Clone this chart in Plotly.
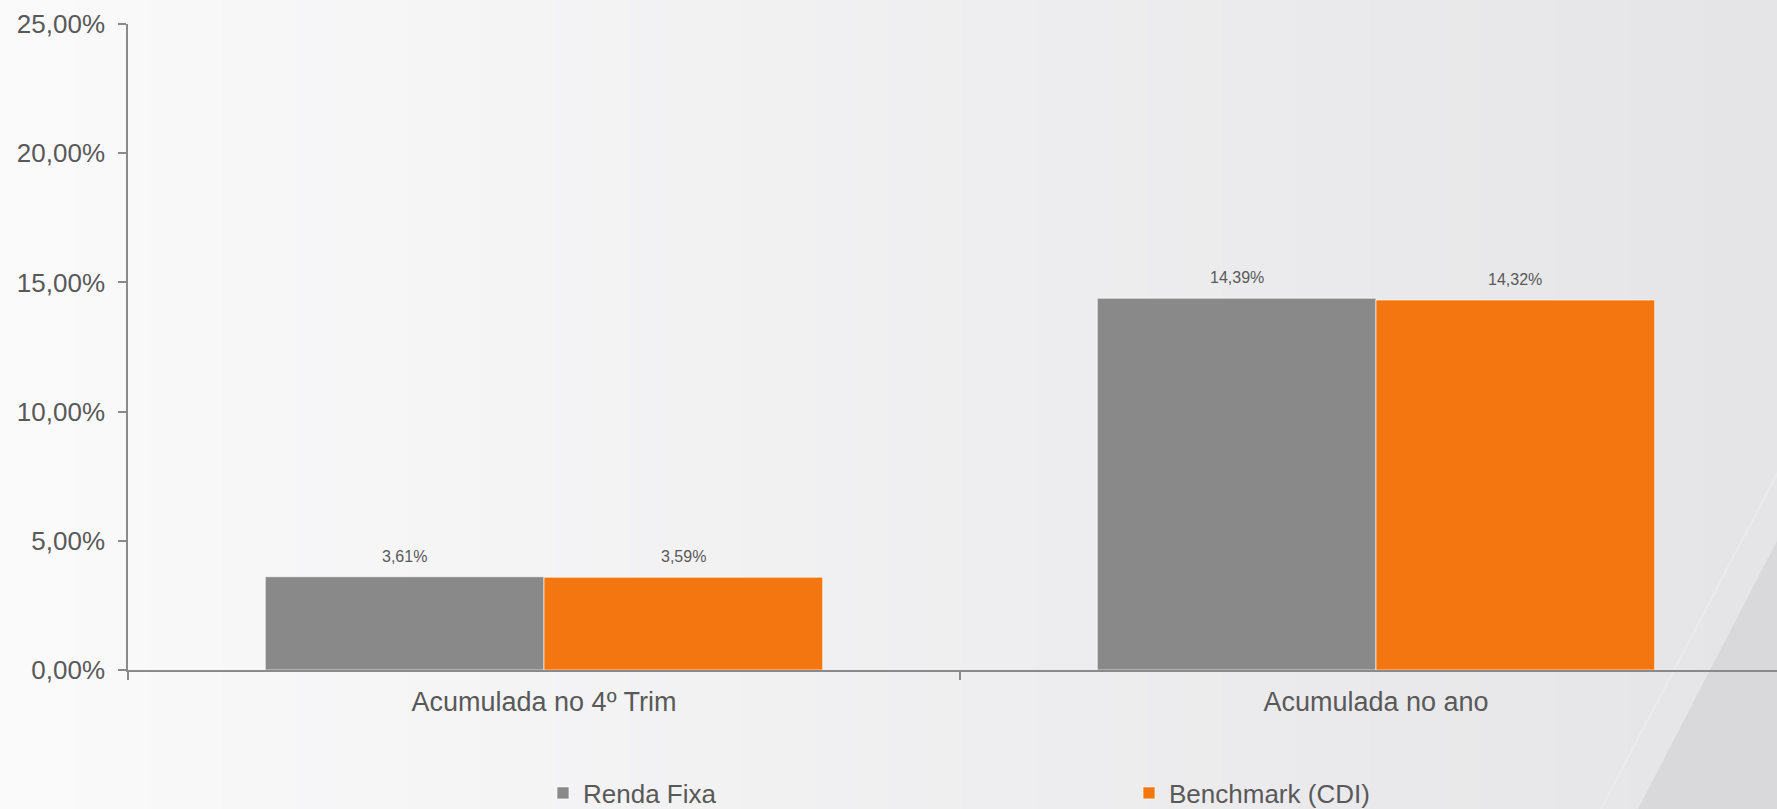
import plotly.graph_objects as go

categories = ["Acumulada no 4º Trim", "Acumulada no ano"]
renda_fixa = [3.61, 14.39]
benchmark = [3.59, 14.32]
series_names = ["Renda Fixa", "Benchmark (CDI)"]
y_ticks = [0, 5, 10, 15, 20, 25]

GRAY = "#898989"
ORANGE = "#F37611"
TXT = "#595959"
FONT = "Arial, Liberation Sans, sans-serif"

FW, FH = 1777, 809
L, R, T, B = 128, 0, 24, 139
PW, PH = FW - L - R, FH - T - B


def px(x):
    return (x - L) / PW


def py(y):
    return (T + PH - y) / PH


fig = go.Figure()
for name, vals, col in [(series_names[0], renda_fixa, GRAY), (series_names[1], benchmark, ORANGE)]:
    fig.add_trace(go.Bar(
        x=categories, y=vals, name=name,
        marker=dict(color=col, line=dict(color="rgba(255,255,255,0.65)", width=1)),
        hoverinfo="skip",
    ))

# data labels
cat_px = PW / 1.982
offset = 0.1675 * cat_px
for vals, sgn in [(renda_fixa, -1), (benchmark, 1)]:
    for c, v in zip(categories, vals):
        fig.add_annotation(
            x=c, y=v, xref="x", yref="y", text=f"{v:.2f}%".replace(".", ","),
            showarrow=False, xshift=sgn * offset, yshift=10, yanchor="bottom",
            font=dict(family=FONT, size=16, color=TXT),
        )

shapes = []
# background gradient bands
n = 48
c0 = (250, 250, 251)
c1 = (229, 229, 231)
for i in range(n):
    t = i / (n - 1)
    col = tuple(round(c0[k] + (c1[k] - c0[k]) * t) for k in range(3))
    x0 = FW * i / n
    x1 = FW * (i + 1) / n + 1
    shapes.append(dict(type="rect", xref="paper", yref="paper", layer="below",
                       x0=px(x0), x1=px(x1), y0=py(FH + 2), y1=py(-2),
                       fillcolor="rgb(%d,%d,%d)" % col, line=dict(width=0)))
# diagonal decoration bottom right
shapes.append(dict(type="path", xref="paper", yref="paper", layer="below",
                   path="M %f,%f L %f,%f L %f,%f Z" % (px(1637), py(FH + 2), px(FW + 2), py(537), px(FW + 2), py(FH + 2)),
                   fillcolor="#d9d9db", line=dict(width=0)))
shapes.append(dict(type="line", xref="paper", yref="paper", layer="below",
                   x0=px(1600), y0=py(FH + 2), x1=px(FW + 2), y1=py(470),
                   line=dict(color="rgba(255,255,255,0.2)", width=2)))

fig.update_layout(
    width=FW, height=FH,
    margin=dict(l=L, r=R, t=T, b=B, autoexpand=False),
    paper_bgcolor="#f2f2f3",
    plot_bgcolor="rgba(0,0,0,0)",
    barmode="group", bargap=0.33, bargroupgap=0,
    shapes=shapes,
    font=dict(family=FONT, color=TXT),
    showlegend=True,
    legend=dict(orientation="h", x=px(543), xanchor="left", y=py(793), yanchor="middle",
                font=dict(family=FONT, size=26, color=TXT), entrywidth=541, entrywidthmode="pixels",
                bgcolor="rgba(0,0,0,0)", itemclick=False, itemdoubleclick=False),
    xaxis=dict(range=[-0.5, 1.482], showline=True, linecolor="#8a8a8a", linewidth=1.5,
               ticks="outside", tickson="boundaries", ticklen=8, tickcolor="#8a8a8a", tickwidth=1.5,
               showgrid=False, zeroline=False, tickfont=dict(family=FONT, size=27, color=TXT),
               ticklabelstandoff=7, automargin=False, fixedrange=True),
    yaxis=dict(range=[0, 25], tickvals=y_ticks, ticktext=[f"{v:.2f}%".replace(".", ",") for v in y_ticks],
               showline=True, linecolor="#8a8a8a", linewidth=1.5, ticks="outside", ticklen=8,
               tickcolor="#8a8a8a", tickwidth=1.5, showgrid=False, zeroline=False,
               tickfont=dict(family=FONT, size=26, color=TXT), ticklabelstandoff=8,
               automargin=False, fixedrange=True),
)

fig.write_html("out.html", config={"displayModeBar": False},
               post_script="document.body.style.margin='0';document.body.style.overflow='hidden';")
